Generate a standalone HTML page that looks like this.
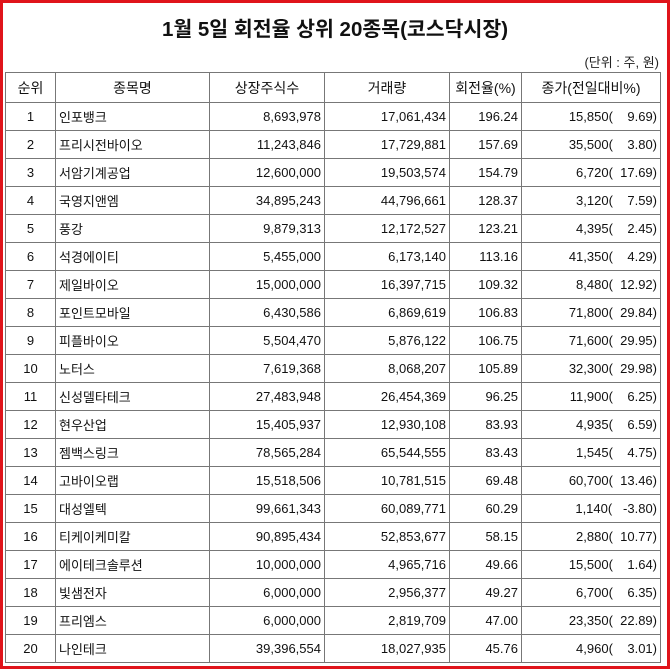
<!DOCTYPE html>
<html><head><meta charset="utf-8"><style>
body{margin:0;background:#fff;}
#w{position:absolute;left:0;top:0;width:664px;height:663px;border:3px solid #e0141b;background:#fff;font-family:"Liberation Sans","Noto Sans CJK KR",sans-serif;}
#t{position:absolute;left:0;top:9px;width:664px;text-align:center;font-size:20.5px;font-weight:bold;color:#111;}
#u{position:absolute;right:8px;top:49px;font-size:13px;color:#222;}
table{position:absolute;left:2px;top:69px;border-collapse:collapse;font-size:13px;color:#111;}
td,th{border:1px solid #777;height:27px;padding:0 3px;white-space:nowrap;}
th{font-weight:normal;font-size:14px;height:29px;}
td.c{text-align:center}td.r{text-align:right}
</style></head><body><div id="w">
<div id="t">1월 5일 회전율 상위 20종목(코스닥시장)</div>
<div id="u">(단위 : 주, 원)</div>
<table>
<colgroup><col style="width:50px"><col style="width:154px"><col style="width:115px"><col style="width:125px"><col style="width:72px"><col style="width:139px"></colgroup>
<tr><th>순위</th><th>종목명</th><th>상장주식수</th><th>거래량</th><th>회전율(%)</th><th>종가(전일대비%)</th></tr>
<tr><td class="c">1</td><td>인포뱅크</td><td class="r">8,693,978</td><td class="r">17,061,434</td><td class="r">196.24</td><td class="r">15,850(&nbsp;&nbsp;&nbsp; 9.69)</td></tr>
<tr><td class="c">2</td><td>프리시전바이오</td><td class="r">11,243,846</td><td class="r">17,729,881</td><td class="r">157.69</td><td class="r">35,500(&nbsp;&nbsp;&nbsp; 3.80)</td></tr>
<tr><td class="c">3</td><td>서암기계공업</td><td class="r">12,600,000</td><td class="r">19,503,574</td><td class="r">154.79</td><td class="r">6,720(&nbsp; 17.69)</td></tr>
<tr><td class="c">4</td><td>국영지앤엠</td><td class="r">34,895,243</td><td class="r">44,796,661</td><td class="r">128.37</td><td class="r">3,120(&nbsp;&nbsp;&nbsp; 7.59)</td></tr>
<tr><td class="c">5</td><td>풍강</td><td class="r">9,879,313</td><td class="r">12,172,527</td><td class="r">123.21</td><td class="r">4,395(&nbsp;&nbsp;&nbsp; 2.45)</td></tr>
<tr><td class="c">6</td><td>석경에이티</td><td class="r">5,455,000</td><td class="r">6,173,140</td><td class="r">113.16</td><td class="r">41,350(&nbsp;&nbsp;&nbsp; 4.29)</td></tr>
<tr><td class="c">7</td><td>제일바이오</td><td class="r">15,000,000</td><td class="r">16,397,715</td><td class="r">109.32</td><td class="r">8,480(&nbsp; 12.92)</td></tr>
<tr><td class="c">8</td><td>포인트모바일</td><td class="r">6,430,586</td><td class="r">6,869,619</td><td class="r">106.83</td><td class="r">71,800(&nbsp; 29.84)</td></tr>
<tr><td class="c">9</td><td>피플바이오</td><td class="r">5,504,470</td><td class="r">5,876,122</td><td class="r">106.75</td><td class="r">71,600(&nbsp; 29.95)</td></tr>
<tr><td class="c">10</td><td>노터스</td><td class="r">7,619,368</td><td class="r">8,068,207</td><td class="r">105.89</td><td class="r">32,300(&nbsp; 29.98)</td></tr>
<tr><td class="c">11</td><td>신성델타테크</td><td class="r">27,483,948</td><td class="r">26,454,369</td><td class="r">96.25</td><td class="r">11,900(&nbsp;&nbsp;&nbsp; 6.25)</td></tr>
<tr><td class="c">12</td><td>현우산업</td><td class="r">15,405,937</td><td class="r">12,930,108</td><td class="r">83.93</td><td class="r">4,935(&nbsp;&nbsp;&nbsp; 6.59)</td></tr>
<tr><td class="c">13</td><td>젬백스링크</td><td class="r">78,565,284</td><td class="r">65,544,555</td><td class="r">83.43</td><td class="r">1,545(&nbsp;&nbsp;&nbsp; 4.75)</td></tr>
<tr><td class="c">14</td><td>고바이오랩</td><td class="r">15,518,506</td><td class="r">10,781,515</td><td class="r">69.48</td><td class="r">60,700(&nbsp; 13.46)</td></tr>
<tr><td class="c">15</td><td>대성엘텍</td><td class="r">99,661,343</td><td class="r">60,089,771</td><td class="r">60.29</td><td class="r">1,140(&nbsp;&nbsp; -3.80)</td></tr>
<tr><td class="c">16</td><td>티케이케미칼</td><td class="r">90,895,434</td><td class="r">52,853,677</td><td class="r">58.15</td><td class="r">2,880(&nbsp; 10.77)</td></tr>
<tr><td class="c">17</td><td>에이테크솔루션</td><td class="r">10,000,000</td><td class="r">4,965,716</td><td class="r">49.66</td><td class="r">15,500(&nbsp;&nbsp;&nbsp; 1.64)</td></tr>
<tr><td class="c">18</td><td>빛샘전자</td><td class="r">6,000,000</td><td class="r">2,956,377</td><td class="r">49.27</td><td class="r">6,700(&nbsp;&nbsp;&nbsp; 6.35)</td></tr>
<tr><td class="c">19</td><td>프리엠스</td><td class="r">6,000,000</td><td class="r">2,819,709</td><td class="r">47.00</td><td class="r">23,350(&nbsp; 22.89)</td></tr>
<tr><td class="c">20</td><td>나인테크</td><td class="r">39,396,554</td><td class="r">18,027,935</td><td class="r">45.76</td><td class="r">4,960(&nbsp;&nbsp;&nbsp; 3.01)</td></tr>
</table></div></body></html>
